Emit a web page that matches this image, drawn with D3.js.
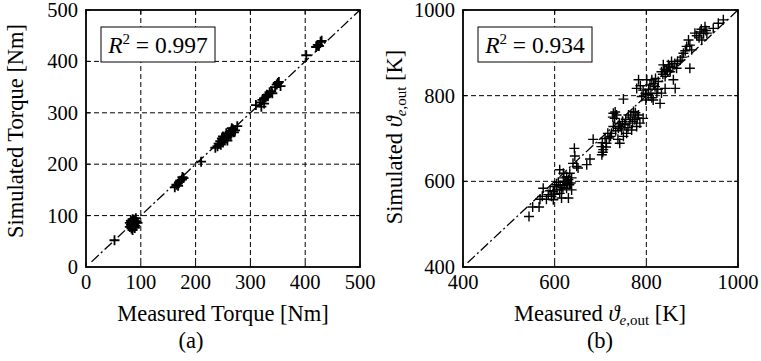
<!DOCTYPE html>
<html><head><meta charset="utf-8">
<script src="https://cdn.jsdelivr.net/npm/d3@7"></script>
<style>
body{margin:0;background:#fff;}
text{font-family:"Liberation Serif","Times New Roman",serif;fill:#000;}
</style></head>
<body><svg id="c" width="761" height="361"></svg>
<script>
// ---------- data ----------
const torqueTicks = [0,100,200,300,400,500];
const tempTicks = [400,600,800,1000];
const torqueMeasured = [52,
 80,82,84,85,86,87,88,89,90,83,85,91,92,94,84,86,88,80,82,90,87,85,83,89,
 162,165,170,172,175,178,176,168,
 210,
 240,242,245,248,250,252,255,258,260,262,265,268,270,246,256,264,250,258,266,272,236,254,276,
 310,318,320,322,325,328,330,332,335,338,340,345,348,350,352,355,325,
 402,
 420,423,425,428,430];
const torqueSimulated = [52,
 78,82,85,88,80,92,84,90,86,75,72,95,88,86,80,84,78,86,90,80,83,93,87,76,
 155,160,165,168,170,173,175,158,
 205,
 235,240,245,250,242,248,255,252,258,262,265,268,262,238,260,255,254,246,270,266,232,250,274,
 315,320,312,325,328,330,335,332,340,342,338,350,355,358,360,352,318,
 412,
 428,432,430,438,440];
const tempMeasured = [
 544,552,566,568,575,573,582,586,593,597,600,604,611,615,619,622,626,630,632,633,637,611,640,644,643,648,651,670,677,619,626,637,597,615,630,
 605,608,612,618,623,628,590,600,620,635,
 684,702,703,706,713,719,724,728,731,735,739,742,746,750,753,757,761,764,768,772,775,779,783,786,793,750,728,738,
 704,710,716,722,733,744,748,755,760,766,770,776,780,732,727,741,705,712,
 779,783,790,793,799,804,808,812,815,819,823,826,830,833,837,841,844,848,852,855,859,863,866,874,895,841,833,801,
 805,810,816,820,825,836,840,846,850,858,862,868,798,787,812,
 881,888,892,899,906,917,921,928,932,946,957,968,
 878,885,895,910,915,920,925,930];
const tempSimulated = [
 518,540,540,558,584,565,558,569,565,576,588,592,572,580,600,592,611,604,592,619,608,627,642,659,677,635,631,639,652,619,584,580,557,561,561,
 580,598,590,585,600,596,578,570,608,596,
 698,681,662,674,689,701,712,759,747,755,724,689,720,705,732,712,755,736,720,763,744,728,755,736,747,792,728,698,
 690,700,712,705,718,728,740,745,725,750,740,760,748,762,750,735,668,680,
 817,837,798,813,790,802,825,837,790,821,806,833,782,856,872,845,860,872,856,880,837,817,864,883,864,817,806,837,
 815,805,828,840,815,850,862,858,868,866,875,880,805,823,795,
 899,915,930,907,946,949,930,961,946,957,969,977,
 890,905,918,940,935,955,945,952];

// ---------- drawing ----------
const svg = d3.select("#c");
const fs = 20.5;   // tick labels
const fl = 22.5;   // axis labels

function panel(opt){
  const x = d3.scaleLinear().domain(opt.domain).range([opt.left, opt.right]);
  const y = d3.scaleLinear().domain(opt.domain).range([opt.bottom, opt.top]);
  const g = svg.append("g");
  g.selectAll(".gx").data(opt.ticks.slice(1,-1)).enter().append("line")
    .attr("x1",d=>x(d)).attr("x2",d=>x(d)).attr("y1",opt.top).attr("y2",opt.bottom)
    .attr("stroke","#000").attr("stroke-width",1).attr("stroke-dasharray","5,3");
  g.selectAll(".gy").data(opt.ticks.slice(1,-1)).enter().append("line")
    .attr("y1",d=>y(d)).attr("y2",d=>y(d)).attr("x1",opt.left).attr("x2",opt.right)
    .attr("stroke","#000").attr("stroke-width",1).attr("stroke-dasharray","5,3");
  g.append("line")
    .attr("x1",x(opt.lineStart)).attr("y1",y(opt.lineStart))
    .attr("x2",x(opt.domain[1])).attr("y2",y(opt.domain[1]))
    .attr("stroke","#000").attr("stroke-width",1.3).attr("stroke-dasharray","10,3,2,3");
  const pts = opt.mx.map((v,i)=>[v,opt.my[i]]);
  const s = 5;
  g.selectAll(".pt").data(pts).enter().append("path")
    .attr("d",d=>{const px=x(d[0]),py=y(d[1]);return `M${px-s},${py}H${px+s}M${px},${py-s}V${py+s}`;})
    .attr("stroke","#000").attr("stroke-width",opt.mw).attr("fill","none");
  opt.ticks.forEach(t=>{
    g.append("line").attr("x1",x(t)).attr("x2",x(t)).attr("y1",opt.bottom).attr("y2",opt.bottom-4).attr("stroke","#000");
    g.append("line").attr("x1",x(t)).attr("x2",x(t)).attr("y1",opt.top).attr("y2",opt.top+4).attr("stroke","#000");
    g.append("line").attr("y1",y(t)).attr("y2",y(t)).attr("x1",opt.left).attr("x2",opt.left+4).attr("stroke","#000");
    g.append("line").attr("y1",y(t)).attr("y2",y(t)).attr("x1",opt.right).attr("x2",opt.right-4).attr("stroke","#000");
  });
  g.append("rect").attr("x",opt.left).attr("y",opt.top)
    .attr("width",opt.right-opt.left).attr("height",opt.bottom-opt.top)
    .attr("fill","none").attr("stroke","#000").attr("stroke-width",1.8);
  g.selectAll(".tx").data(opt.ticks).enter().append("text")
    .attr("x",d=>x(d)).attr("y",opt.bottom+22).attr("text-anchor","middle")
    .attr("font-size",fs).text(d=>d);
  g.selectAll(".ty").data(opt.ticks).enter().append("text")
    .attr("x",opt.left-8).attr("y",d=>y(d)).attr("dy","0.34em").attr("text-anchor","end")
    .attr("font-size",fs).text(d=>d);
  g.append("rect").attr("x",opt.left+15).attr("y",opt.top+17).attr("width",114).attr("height",35)
    .attr("fill","#fff").attr("stroke","#000").attr("stroke-width",1);
  const rt = g.append("text").attr("x",opt.left+15+57).attr("y",opt.top+43)
    .attr("text-anchor","middle").attr("font-size",23.5);
  rt.append("tspan").attr("font-style","italic").text("R");
  rt.append("tspan").attr("dy",-9).attr("font-size",15).text("2");
  rt.append("tspan").attr("dy",9).text(" = " + opt.r2);
  return {x,y,g};
}

panel({domain:[0,500], left:86, right:360, top:10, bottom:267, ticks:torqueTicks,
  mx:torqueMeasured, my:torqueSimulated, lineStart:10, r2:"0.997", mw:1.8});
panel({domain:[400,1000], left:463, right:738, top:10, bottom:267, ticks:tempTicks,
  mx:tempMeasured, my:tempSimulated, lineStart:410, r2:"0.934", mw:1.4});

svg.append("text").attr("x",223).attr("y",321).attr("text-anchor","middle").attr("font-size",fl)
  .text("Measured Torque [Nm]");
svg.append("text").attr("transform","translate(23,131) rotate(-90)").attr("text-anchor","middle")
  .attr("font-size",fl).text("Simulated Torque [Nm]");
svg.append("text").attr("x",191).attr("y",348).attr("text-anchor","middle").attr("font-size",fl).text("(a)");

function thetaLabel(sel, prefix){
  sel.append("tspan").text(prefix);
  sel.append("tspan").attr("font-style","italic").text("\u03D1");
  sel.append("tspan").attr("dy",4).attr("font-size",15).attr("font-style","italic").text("e");
  sel.append("tspan").attr("font-size",15).text(",out");
  sel.append("tspan").attr("dy",-4).text(" [K]");
}
const xb = svg.append("text").attr("x",600).attr("y",321).attr("text-anchor","middle").attr("font-size",fl);
thetaLabel(xb,"Measured ");
const yb = svg.append("text").attr("transform","translate(402,137) rotate(-90)").attr("text-anchor","middle").attr("font-size",fl);
thetaLabel(yb,"Simulated ");
svg.append("text").attr("x",600).attr("y",348).attr("text-anchor","middle").attr("font-size",fl).text("(b)");
</script></body></html>
